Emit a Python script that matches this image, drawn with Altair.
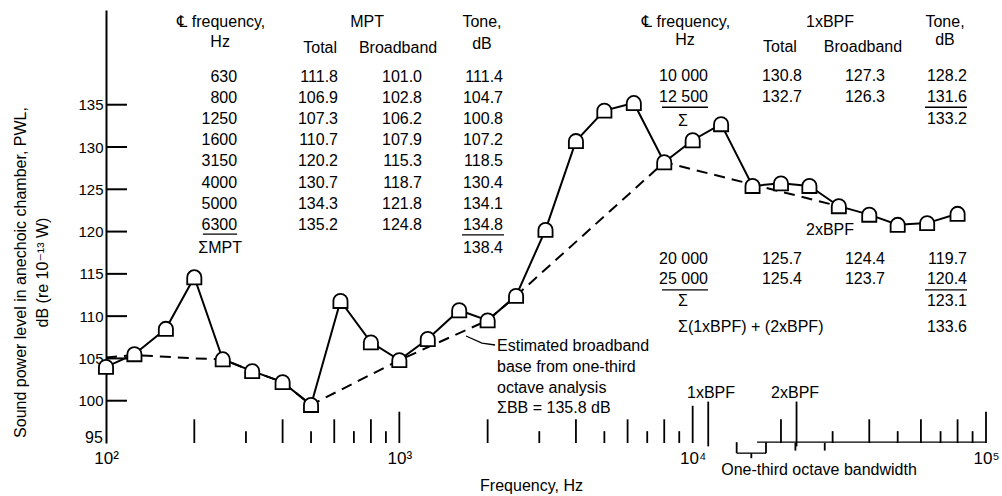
import altair as alt
import pandas as pd

# ---------------- values ----------------
# one-third octave band centre frequencies (Hz) and total PWL (dB)
band_freq = [100, 125, 160, 200, 250, 315, 400, 500, 630, 800, 1000, 1250, 1600,
             2000, 2500, 3150, 4000, 5000, 6300, 8000, 10000, 12500, 16000,
             20000, 25000, 31500, 40000, 50000, 63000, 80000]
band_pwl = [104.0, 105.5, 108.5, 114.6, 104.9, 103.5, 102.2, 99.5, 111.8, 106.9,
            104.8, 107.3, 110.7, 109.5, 112.4, 120.2, 130.7, 134.3, 135.2, 128.2,
            130.8, 132.7, 125.4, 125.7, 125.4, 123.0, 122.0, 120.8, 121.0, 122.1]

# estimated broadband base (dashed)
bb_freq = [100, 125, 160, 200, 250, 315, 400, 500, 1000, 2000, 2500, 8000, 31500]
bb_pwl = [105.1, 105.4, 105.2, 105.0, 104.9, 103.5, 102.2, 99.5, 104.8, 109.5, 112.4, 128.2, 123.0]

y_tick_values = [100, 105, 110, 115, 120, 125, 130, 135]
y_label_values = [100, 105, 110, 115, 120, 125, 130, 135]
y_bottom_label = "95"
x_label_values = [100, 1000, 10000, 100000]

# MPT table
mpt_freq = ["630", "800", "1250", "1600", "3150", "4000", "5000", "6300"]
mpt_total = ["111.8", "106.9", "107.3", "110.7", "120.2", "130.7", "134.3", "135.2"]
mpt_bb = ["101.0", "102.8", "106.2", "107.9", "115.3", "118.7", "121.8", "124.8"]
mpt_tone = ["111.4", "104.7", "100.8", "107.2", "118.5", "130.4", "134.1", "134.8"]
mpt_sum = "138.4"

# 1xBPF table
bpf1_freq = ["10 000", "12 500"]
bpf1_total = ["130.8", "132.7"]
bpf1_bb = ["127.3", "126.3"]
bpf1_tone = ["128.2", "131.6"]
bpf1_sum = "133.2"

# 2xBPF table
bpf2_freq = ["20 000", "25 000"]
bpf2_total = ["125.7", "125.4"]
bpf2_bb = ["124.4", "123.7"]
bpf2_tone = ["119.7", "120.4"]
bpf2_sum = "123.1"
bpf_all_sum = "133.6"

# scale marks along the bottom (Hz)
long_marks = [200, 400, 600, 800, 2000, 4000, 6000, 8000, 20000, 40000, 60000, 80000]
short_marks = [300, 500, 700, 900, 3000, 5000, 7000, 9000, 30000, 50000, 70000, 90000]
decade_marks = [1000, 10000, 100000]
bpf_marks = [11300, 22600]
edge_marks = [22400, 28200]
bracket_edges = [14125, 17783]

# ---------------- layout / style ----------------
FONT = "Liberation Sans, Arial, DejaVu Sans, sans-serif"
XS = alt.Scale(type="log", domain=[100, 100000], nice=False)
YS = alt.Scale(domain=[95, 146.2], nice=False, zero=False)
FS = 16

X_AX = alt.Axis(values=x_label_values, domain=False, ticks=False, grid=False,
                labelExpr="datum.value == 100 ? '10²' : datum.value == 1000 ? '10³' : datum.value == 10000 ? '10⁴' : '10⁵'",
                labelFontSize=17, labelPadding=7, labelFont=FONT, labelColor="black",
                labelFlush=False, labelOverlap=False,
                title="Frequency, Hz", titleFont=FONT, titleFontSize=FS, titleFontWeight="normal",
                titleX=425, titleY=42, titleAlign="center", titleBaseline="middle", titleColor="black")
Y_AX = alt.Axis(values=y_label_values, ticks=False, grid=False, domain=True,
                domainColor="black", domainWidth=2, labelFontSize=15, labelPadding=3,
                labelFont=FONT, labelColor="black", labelFlush=False, labelOverlap=False,
                title=["Sound power level in anechoic chamber, PWL,", "dB (re 10⁻¹³ W)"],
                titleFont=FONT, titleFontSize=FS, titleFontWeight="normal", titleColor="black",
                titleX=-86, titleY=262, titleAngle=270, titleAlign="center",
                titleBaseline="middle", titleLineHeight=22)


def X(field="f:Q"):
    return alt.X(field, scale=XS, axis=X_AX)


def Y(field="v:Q"):
    return alt.Y(field, scale=YS, axis=Y_AX)


def text_layer(rows, align, size=FS):
    df = pd.DataFrame(rows, columns=["t", "f", "v"])
    return alt.Chart(df).mark_text(align=align, baseline="middle", fontSize=size,
                                   font=FONT, color="black").encode(
        x=X(), y=Y(), text="t:N")


def rule_h(rows, width=1.3):
    df = pd.DataFrame(rows, columns=["f", "f2", "v"])
    return alt.Chart(df).mark_rule(color="black", strokeWidth=width).encode(
        x=X(), x2="f2:Q", y=Y())


def rule_v(rows, width=1.8):
    df = pd.DataFrame(rows, columns=["f", "v", "v2"])
    return alt.Chart(df).mark_rule(color="black", strokeWidth=width).encode(
        x=X(), y=Y(), y2="v2:Q")


# table row positions (dB units of the y scale)
L_ROWS = [138.3 - 2.5 * i for i in range(8)]
L_SUM = 118.0
R1_ROWS = [138.4, 135.9]
R1_SUM = 133.3
R2_ROWS = [116.8, 114.4]
R2_SUM = 111.8
R_ALL = 108.7

texts_right, texts_center, texts_left = [], [], []
# bottom y label, lifted a little as in the original
texts_right += [(y_bottom_label, 97.6, 95.6)]
# left table
texts_center += [("℄ frequency,", 247, 144.8), ("Hz", 245, 142.4), ("MPT", 776, 144.8),
                 ("Total", 537, 141.7), ("Broadband", 990, 141.7),
                 ("Tone,", 1913, 144.8), ("dB", 1913, 142.2), ("ΣMPT", 245, L_SUM)]
for i in range(8):
    texts_right += [(mpt_freq[i], 280, L_ROWS[i]), (mpt_total[i], 618, L_ROWS[i]),
                    (mpt_bb[i], 1195, L_ROWS[i]), (mpt_tone[i], 2256, L_ROWS[i])]
texts_right += [(mpt_sum, 2256, L_SUM)]
# right table
texts_center += [("℄ frequency,", 9490, 144.8), ("Hz", 9420, 142.6), ("1xBPF", 29390, 144.8),
                 ("Total", 19850, 141.8), ("Broadband", 38080, 141.8),
                 ("Tone,", 72480, 144.8), ("dB", 72480, 142.6),
                 ("Σ", 9268, R1_SUM - 0.2), ("Σ", 9268, R2_SUM),
                 ("2xBPF", 29390, 120.2)]
for i in range(2):
    texts_right += [(bpf1_freq[i], 11278, R1_ROWS[i]), (bpf1_total[i], 23590, R1_ROWS[i]),
                    (bpf1_bb[i], 45250, R1_ROWS[i]), (bpf1_tone[i], 86130, R1_ROWS[i]),
                    (bpf2_freq[i], 11278, R2_ROWS[i]), (bpf2_total[i], 23590, R2_ROWS[i]),
                    (bpf2_bb[i], 45250, R2_ROWS[i]), (bpf2_tone[i], 86130, R2_ROWS[i])]
texts_right += [(bpf1_sum, 86130, R1_SUM), (bpf2_sum, 86130, R2_SUM), (bpf_all_sum, 86130, R_ALL)]
texts_left += [("Σ(1xBPF) + (2xBPF)", 8913, R_ALL)]
# annotation
texts_left += [("Estimated broadband", 2153, 106.5), ("base from one-third", 2153, 104.0),
               ("octave analysis", 2153, 101.5), ("ΣBB = 135.8 dB", 2153, 99.1)]
# bottom labels
texts_center += [("1xBPF", 11550, 100.9), ("2xBPF", 22340, 100.9),
                 ("One-third octave bandwidth", 26960, 91.8)]

underlines = [(214, 280, 119.7), (1635, 2274, 119.6),
              (7862, 11278, 134.7), (61950, 86130, 134.7),
              (7862, 11278, 113.1), (61950, 86130, 113.1)]

marks_v = ([(f, 95.0, 97.8) for f in long_marks] +
           [(f, 95.0, 96.4) for f in short_marks] +
           [(1000, 95.0, 98.7), (10000, 95.0, 99.4), (100000, 95.0, 98.7)] +
           [(f, 94.6, 99.9) for f in bpf_marks] +
           [(f, 95.0, 94.1) for f in edge_marks] +
           [(f, 95.1, 93.8) for f in bracket_edges] +
           [(15849, 93.8, 93.2)])
marks_h = [(16580, 100000, 95.1), (bracket_edges[0], bracket_edges[1], 93.8)]

leader = pd.DataFrame({"f": [1688, 1913, 2120], "v": [107.65, 106.82, 106.59]})

# ---------------- chart ----------------
main_df = pd.DataFrame({"f": band_freq, "v": band_pwl})
bb_df = pd.DataFrame({"f": bb_freq, "v": bb_pwl})

dashed = alt.Chart(bb_df).mark_line(color="black", strokeWidth=2, strokeDash=[11, 7]).encode(
    x=X(), y=Y())
solid = alt.Chart(main_df).mark_line(color="black", strokeWidth=2).encode(x=X(), y=Y())
points = alt.Chart(main_df).mark_point(
    shape="M -1 1 L -1 0 A 1 1 0 0 1 1 0 L 1 1 Z", size=200, filled=True,
    fill="white", stroke="black", strokeWidth=1.8, opacity=1).encode(x=X(), y=Y())

ytick_df = pd.DataFrame({"v": y_tick_values})
yticks = alt.Chart(ytick_df).mark_rule(color="black", strokeWidth=2).encode(
    x=alt.value(0), x2=alt.value(21), y=Y())

leader_line = alt.Chart(leader).mark_line(color="black", strokeWidth=1.3).encode(x=X(), y=Y())

chart = alt.layer(
    dashed, solid, points, yticks, leader_line,
    rule_v(marks_v), rule_h(marks_h, width=1.3), rule_h(underlines, width=1.3),
    text_layer(texts_right, "right"), text_layer(texts_center, "center"),
    text_layer(texts_left, "left"),
).properties(
    width=880, height=433,
    autosize=alt.AutoSizeParams(type="none"),
    padding={"left": 106, "top": 10, "right": 16, "bottom": 53},
).configure(font=FONT, background="white").configure_view(stroke=None)

chart.save("out.html", embed_options={"renderer": "svg", "actions": False})
